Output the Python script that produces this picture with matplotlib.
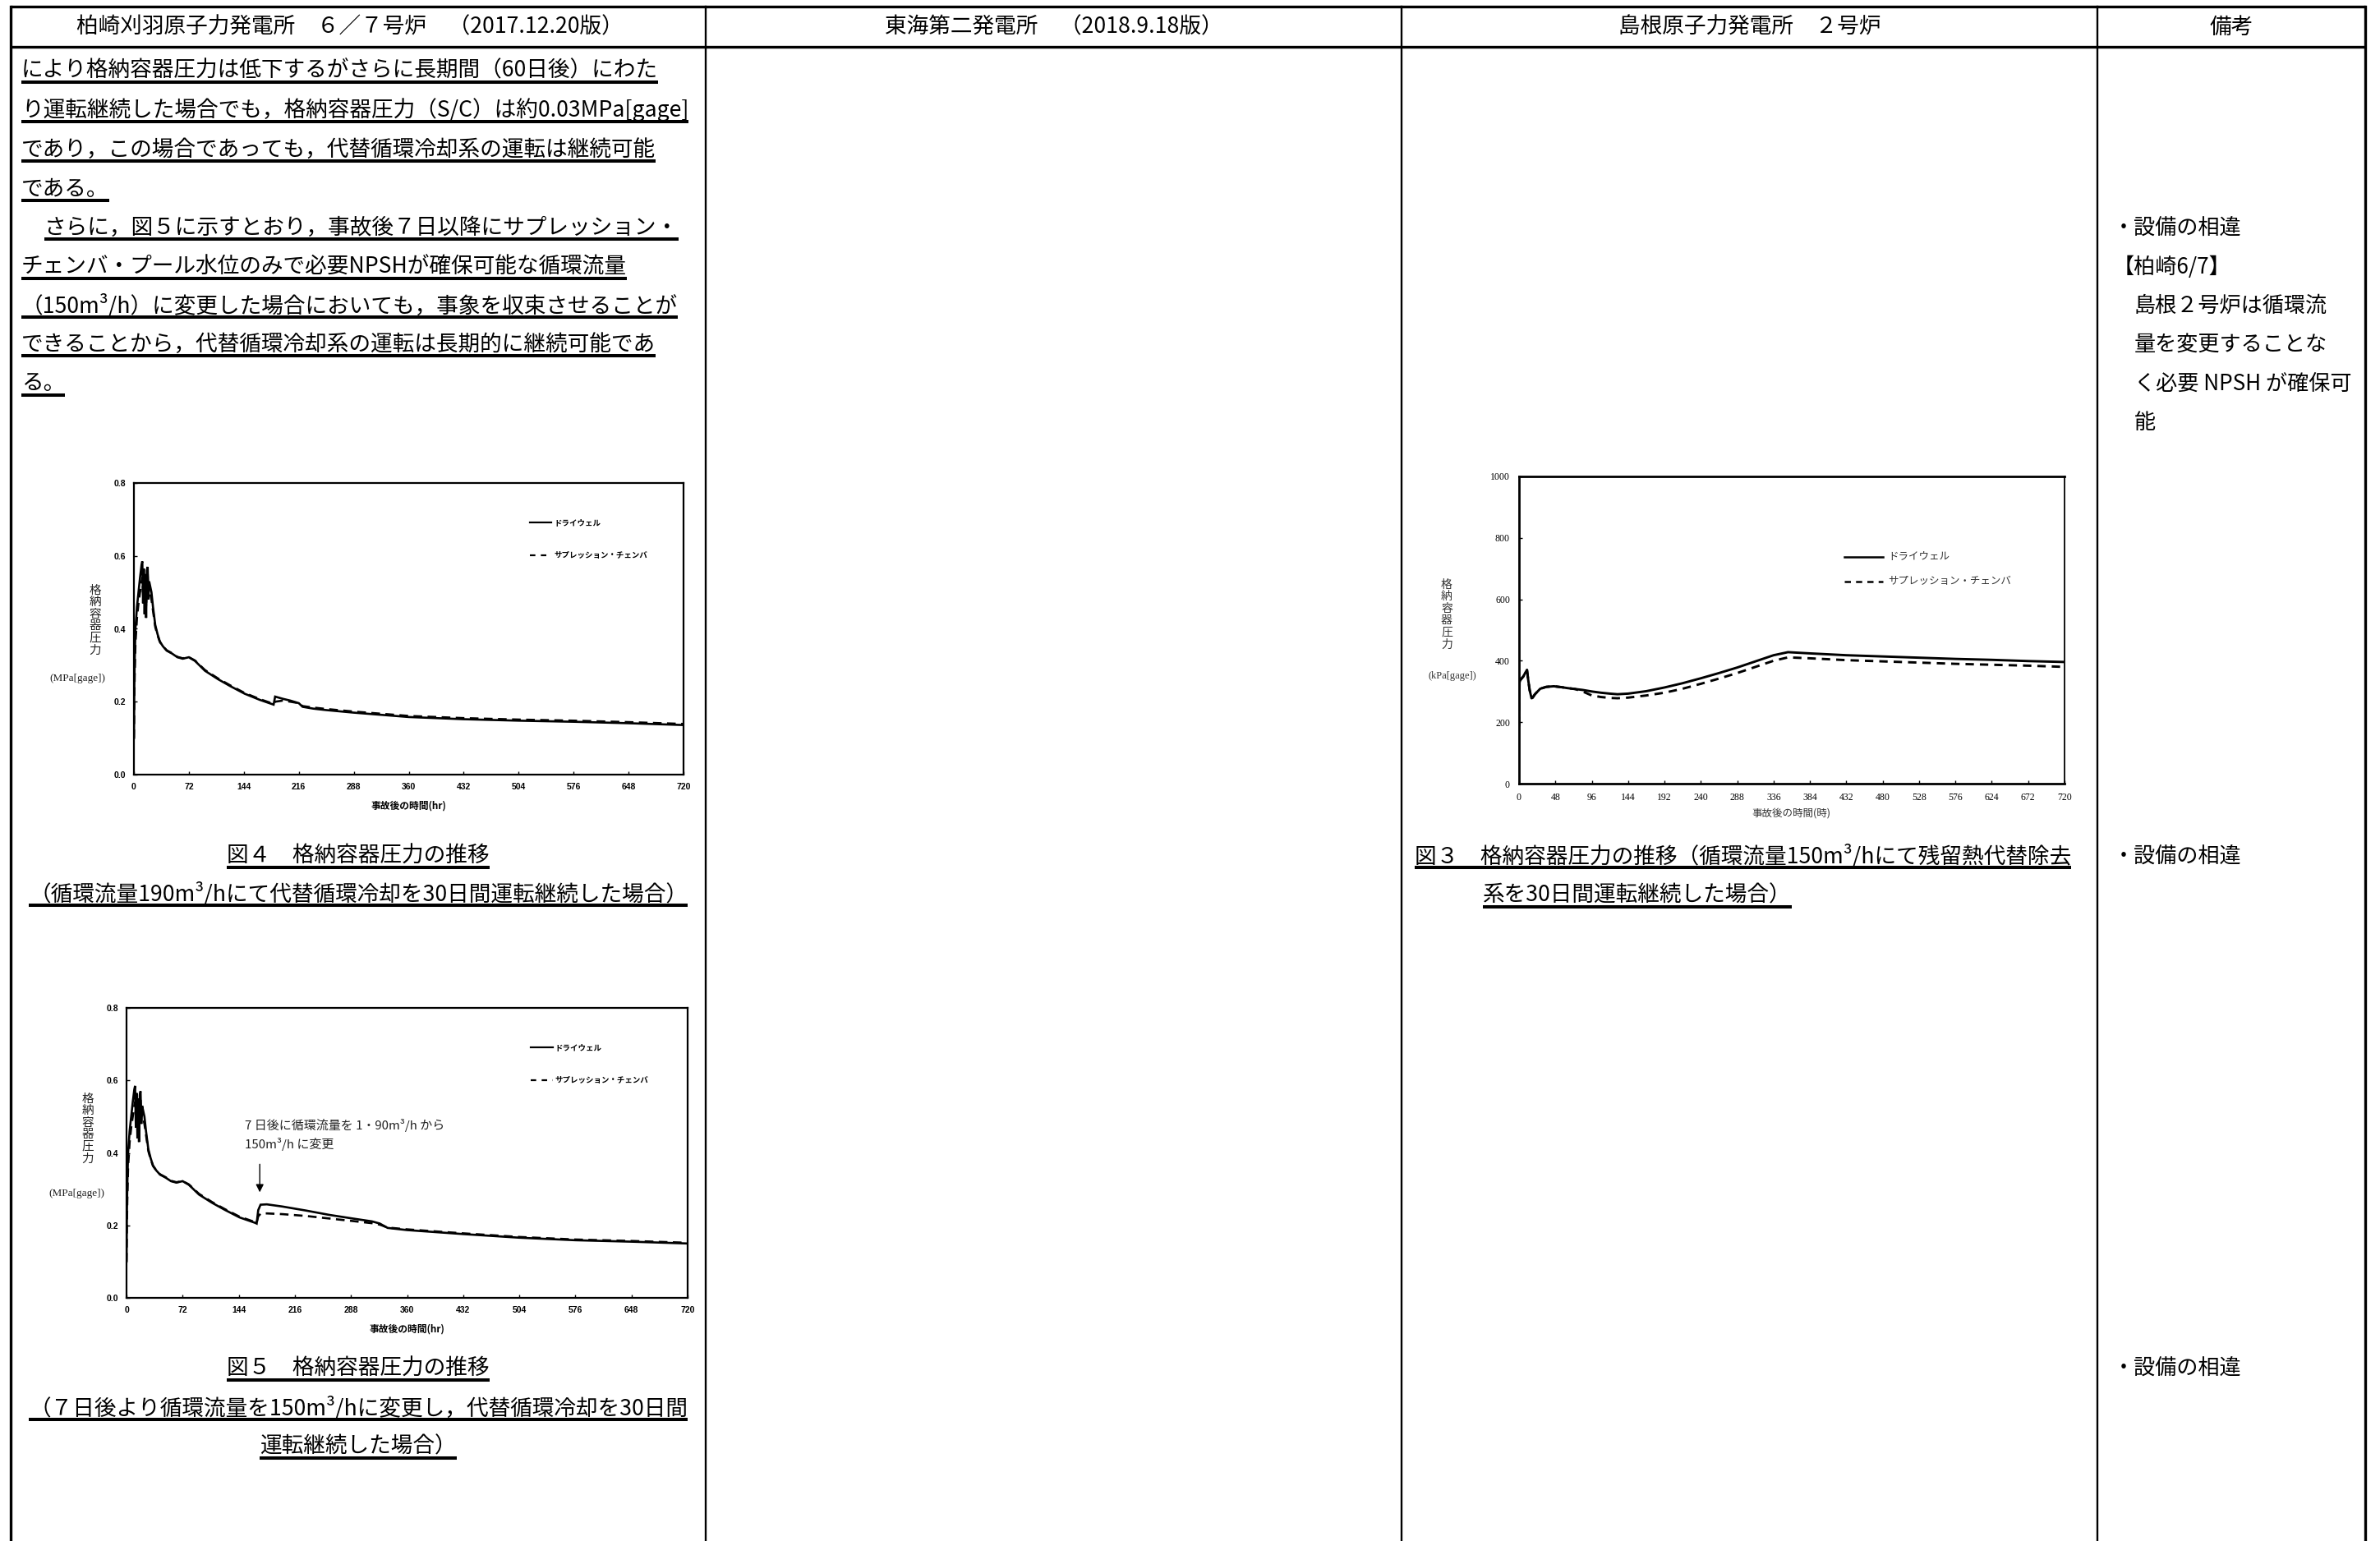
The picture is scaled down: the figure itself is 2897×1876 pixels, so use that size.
import matplotlib
matplotlib.use('Agg')
import matplotlib.pyplot as plt

# ---------------- data ----------------
# 図4 (柏崎 6/7, 190 m3/h, 30 days)  [hr], [MPa gage]
t4 = [0, 0.5, 1, 2, 4, 6, 8, 10, 11, 12, 13, 14, 15, 16, 17, 18, 19, 20, 21, 23,
      25, 28, 31, 34, 38, 43, 50, 57, 64, 72, 80, 93, 110, 126, 145, 165, 183, 185, 195, 205,
      216, 221, 235, 252, 288, 324, 360, 432, 504, 576, 648, 720]
dw4 = [0.10, 0.24, 0.31, 0.40, 0.46, 0.50, 0.54, 0.575, 0.585, 0.47, 0.565, 0.44, 0.55, 0.43, 0.56, 0.57, 0.48, 0.53, 0.52, 0.50,
       0.46, 0.41, 0.385, 0.365, 0.352, 0.34, 0.332, 0.322, 0.318, 0.322, 0.312, 0.285, 0.262, 0.243, 0.222, 0.205, 0.192, 0.214, 0.208, 0.203,
       0.196, 0.186, 0.181, 0.177, 0.170, 0.164, 0.158, 0.152, 0.148, 0.145, 0.141, 0.136]
sc4 = [0.10, 0.20, 0.27, 0.36, 0.43, 0.47, 0.50, 0.53, 0.54, 0.50, 0.55, 0.47, 0.54, 0.46, 0.53, 0.55, 0.50, 0.51, 0.50, 0.48,
       0.45, 0.405, 0.382, 0.364, 0.352, 0.341, 0.333, 0.323, 0.319, 0.322, 0.313, 0.287, 0.264, 0.245, 0.224, 0.207, 0.194, 0.200, 0.203, 0.200,
       0.196, 0.188, 0.184, 0.180, 0.173, 0.167, 0.161, 0.155, 0.151, 0.148, 0.144, 0.139]

# 図5 (柏崎 6/7, 7日後より 150 m3/h)
t5 = [0, 0.5, 1, 2, 4, 6, 8, 10, 11, 12, 13, 14, 15, 16, 17, 18, 19, 20, 21, 23,
      25, 28, 31, 34, 38, 43, 50, 57, 64, 72, 80, 93, 110, 126, 145,
      165, 167, 169, 172, 180, 200, 230, 260, 290, 315, 325, 335, 360, 432, 504, 576, 648, 720]
dw5 = [0.10, 0.24, 0.31, 0.40, 0.46, 0.50, 0.54, 0.575, 0.585, 0.47, 0.565, 0.44, 0.55, 0.43, 0.56, 0.57, 0.48, 0.53, 0.52, 0.50,
       0.46, 0.41, 0.385, 0.365, 0.352, 0.34, 0.332, 0.322, 0.318, 0.322, 0.312, 0.285, 0.262, 0.243, 0.222,
       0.207, 0.205, 0.242, 0.257, 0.258, 0.252, 0.241, 0.229, 0.219, 0.211, 0.205, 0.193, 0.187, 0.176, 0.166, 0.159, 0.155, 0.150]
sc5 = [0.10, 0.20, 0.27, 0.36, 0.43, 0.47, 0.50, 0.53, 0.54, 0.50, 0.55, 0.47, 0.54, 0.46, 0.53, 0.55, 0.50, 0.51, 0.50, 0.48,
       0.45, 0.405, 0.382, 0.364, 0.352, 0.341, 0.333, 0.323, 0.319, 0.322, 0.313, 0.287, 0.264, 0.245, 0.224,
       0.209, 0.207, 0.225, 0.232, 0.233, 0.231, 0.226, 0.219, 0.212, 0.206, 0.202, 0.194, 0.189, 0.178, 0.168, 0.161, 0.157, 0.152]

# 図3 (島根 2号炉, 150 m3/h)  [時], [kPa gage]
t3 = [0, 0.7, 1, 2, 4, 6, 8, 10.5, 12, 14, 16.5, 18, 21, 28, 36, 46, 56, 64, 74, 84,
      96, 108, 120, 130, 144, 168, 192, 216, 240, 264, 288, 312, 336, 355, 384, 432, 480, 528, 576, 624,
      672, 720]
dw3 = [190, 330, 335, 338, 344, 350, 360, 370, 340, 305, 278, 280, 291, 309, 315, 317, 314, 311, 308, 305,
       300, 296, 293, 291, 293, 301, 313, 327, 343, 360, 378, 398, 418, 428, 424, 418, 414, 410, 406, 403,
       399, 396]
sc3 = [190, 330, 335, 338, 344, 350, 360, 370, 340, 305, 278, 280, 291, 309, 315, 317, 314, 311, 308, 300,
       287, 282, 279, 278, 280, 287, 296, 309, 325, 342, 360, 380, 400, 411, 408, 402, 398, 394, 390, 387,
       384, 380]

ticks_kk = list(range(0, 721, 72))
ticks_sh = list(range(0, 721, 48))
yt_mpa = [0.0, 0.2, 0.4, 0.6, 0.8]
yt_kpa = [0, 200, 400, 600, 800, 1000]
legend_labels = ['ドライウェル', 'サプレッション・チェンバ']

headers = ['柏崎刈羽原子力発電所　６／７号炉　（2017.12.20版）',
           '東海第二発電所　（2018.9.18版）',
           '島根原子力発電所　２号炉',
           '備考']
body_lines = ['により格納容器圧力は低下するがさらに長期間（60日後）にわた',
              'り運転継続した場合でも，格納容器圧力（S/C）は約0.03MPa[gage]',
              'であり，この場合であっても，代替循環冷却系の運転は継続可能',
              'である。',
              'さらに，図５に示すとおり，事故後７日以降にサプレッション・',
              'チェンバ・プール水位のみで必要NPSHが確保可能な循環流量',
              '（150m³/h）に変更した場合においても，事象を収束させることが',
              'できることから，代替循環冷却系の運転は長期的に継続可能であ',
              'る。']
remarks1 = ['・設備の相違', '【柏崎6/7】', '島根２号炉は循環流', '量を変更することな',
            'く必要 NPSH が確保可', '能']

# ---------------- page ----------------
W, H = 2897, 1876
DPI = 100
plt.rcParams['font.family'] = ['Noto Sans CJK JP', 'DejaVu Sans']

fig = plt.figure(figsize=(W / DPI, H / DPI), dpi=DPI)
page = fig.add_axes([0, 0, 1, 1])
page.set_xlim(0, W)
page.set_ylim(H, 0)
page.axis('off')
renderer = fig.canvas.get_renderer()

# table lines
X_L, X_R = 13, 2879
cols = [X_L, 859, 1706, 2553, X_R]
page.plot([X_L, X_R], [8, 8], color='k', lw=2.4, solid_capstyle='butt')
page.plot([X_L, X_R], [57, 57], color='k', lw=2.4, solid_capstyle='butt')
for i, x in enumerate(cols):
    page.plot([x, x], [8, H], color='k', lw=2.4 if i in (0, 4) else 1.7)

FS = 19.2


def utext(x, y, s, size=FS, ha='left', underline=True, off=14, **kw):
    t = page.text(x, y, s, fontsize=size, ha=ha, va='center', **kw)
    if underline:
        bb = t.get_window_extent(renderer)
        page.plot([bb.x0, bb.x1], [y + off, y + off], color='k', lw=2.9,
                  solid_capstyle='butt')
    return t


# headers
for i, h in enumerate(headers):
    cx = (cols[i] + cols[i + 1]) / 2
    if i == 0:
        cx -= 10
    page.text(cx, 33, h, fontsize=FS, ha='center', va='center')

# body text column 1
line_y = [86, 134, 182, 230, 277, 325, 372, 419, 467]
for s, y in zip(body_lines, line_y):
    x = 26
    if s.startswith('さらに'):
        x = 26 + 28
    utext(x, y, s)

# remarks column
RFS = 18.8
rem_y = [277, 325, 372, 419, 467, 515]
for s, y in zip(remarks1, rem_y):
    x = 2572 if (s.startswith('・') or s.startswith('【')) else 2598
    page.text(x, y, s, fontsize=RFS, ha='left', va='center')
page.text(2572, 1042, '・設備の相違', fontsize=RFS, ha='left', va='center')
page.text(2572, 1665, '・設備の相違', fontsize=RFS, ha='left', va='center')

# captions
c1 = (cols[0] + cols[1]) / 2
utext(c1, 1042, '図４　格納容器圧力の推移', ha='center')
utext(c1, 1088, '（循環流量190m³/hにて代替循環冷却を30日間運転継続した場合）', ha='center')
utext(c1, 1666, '図５　格納容器圧力の推移', ha='center')
utext(c1, 1714, '（７日後より循環流量を150m³/hに変更し，代替循環冷却を30日間', ha='center')
utext(c1, 1761, '運転継続した場合）', ha='center')
utext(1722, 1042, '図３　格納容器圧力の推移（循環流量150m³/hにて残留熱代替除去')
utext(1805, 1090, '系を30日間運転継続した場合）')


def px_axes(x0, y0, x1, y1):
    ax = fig.add_axes([x0 / W, 1 - y1 / H, (x1 - x0) / W, (y1 - y0) / H])
    ax.set_facecolor('none')
    return ax


def kk_chart(box, t, dw, sc, ylab_xy, unit_xy, xlab_xy):
    ax = px_axes(*box)
    ax.plot(t, dw, color='k', lw=1.9, solid_joinstyle='miter')
    ax.plot(t, sc, color='k', lw=1.9, dashes=(4, 2.5))
    ax.set_xlim(0, 720)
    ax.set_ylim(0, 0.8)
    ax.set_xticks(ticks_kk)
    ax.set_yticks(yt_mpa)
    ax.set_yticklabels([f'{v:.1f}' for v in yt_mpa])
    ax.tick_params(direction='in', length=3, width=1, labelsize=7.5, pad=7,
                   labelfontfamily='Liberation Sans')
    for lbl in ax.get_xticklabels() + ax.get_yticklabels():
        lbl.set_fontweight('bold')
    for sp in ax.spines.values():
        sp.set_linewidth(1.6)
    # legend
    ax.plot([0.72, 0.76], [0.865, 0.865], transform=ax.transAxes, color='k', lw=1.6)
    ax.plot([0.72, 0.76], [0.752, 0.752], transform=ax.transAxes, color='k', lw=1.6,
            dashes=(3, 3))
    ax.text(0.764, 0.865, legend_labels[0], transform=ax.transAxes, fontsize=6.8,
            fontweight='bold', va='center', ha='left')
    ax.text(0.764, 0.752, legend_labels[1], transform=ax.transAxes, fontsize=6.8,
            fontweight='bold', va='center', ha='left')
    page.text(*ylab_xy, '格\n納\n容\n器\n圧\n力', fontsize=10.5, ha='center',
              va='center', linespacing=1.05, color='#222')
    page.text(*unit_xy, '(MPa[gage])', fontsize=9.5, ha='center', va='center',
              family=['Liberation Serif', 'Noto Sans CJK JP'], color='#222')
    page.text(*xlab_xy, '事故後の時間(hr)', fontsize=8.5, fontweight='bold',
              ha='center', va='center')
    return ax


ax4 = kk_chart((163, 588, 832, 943), t4, dw4, sc4, (116, 755), (94, 826), (497, 981))
ax5 = kk_chart((154, 1227, 837, 1580), t5, dw5, sc5, (107, 1374), (93, 1453), (495, 1618))
ax5.annotate('', xy=(171, 0.285), xytext=(171, 0.375),
             arrowprops=dict(arrowstyle='-|>', color='k', lw=1.0, mutation_scale=14))
page.text(298, 1370, '7 日後に循環流量を 1・90m³/h から', fontsize=10.8, ha='left',
          va='center', color='#222', zorder=5)
page.text(298, 1393, '150m³/h に変更', fontsize=10.8, ha='left', va='center',
          color='#222', zorder=5)

# 図3 chart
ax3 = px_axes(1849, 580, 2513, 954)
ax3.plot(t3, sc3, color='k', lw=2.1, dashes=(3.5, 2.5))
ax3.plot(t3, dw3, color='k', lw=2.1)
ax3.set_xlim(0, 720)
ax3.set_ylim(0, 1000)
ax3.set_xticks(ticks_sh)
ax3.set_yticks(yt_kpa)
ax3.tick_params(direction='in', length=3, width=1, labelsize=8.5, pad=8,
                labelfontfamily='Liberation Serif')
ax3.spines['left'].set_linewidth(2.0)
ax3.spines['bottom'].set_linewidth(2.0)
ax3.spines['top'].set_linewidth(2.0)
ax3.spines['right'].set_linewidth(1.3)
ax3.plot([0.596, 0.667], [0.738, 0.738], transform=ax3.transAxes, color='k', lw=1.8)
ax3.plot([0.596, 0.667], [0.658, 0.658], transform=ax3.transAxes, color='k', lw=1.8,
         dashes=(3, 2.5))
ax3.text(0.676, 0.738, legend_labels[0], transform=ax3.transAxes, fontsize=9,
         va='center', ha='left', color='#333')
ax3.text(0.676, 0.658, legend_labels[1], transform=ax3.transAxes, fontsize=9,
         va='center', ha='left', color='#333')
page.text(1761, 748, '格\n納\n容\n器\n圧\n力', fontsize=10, ha='center', va='center',
          linespacing=1.05, color='#333')
page.text(1768, 823, '(kPa[gage])', fontsize=9, ha='center', va='center',
          family=['Liberation Serif', 'Noto Sans CJK JP'], color='#333')
page.text(2180, 990, '事故後の時間(時)', fontsize=9, ha='center', va='center', color='#333')

fig.savefig('out.png', dpi=DPI, facecolor='white')
